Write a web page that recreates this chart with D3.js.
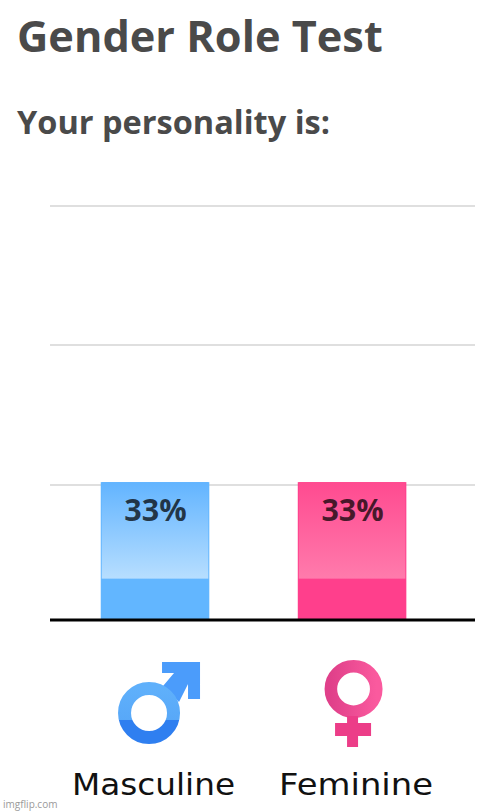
<!DOCTYPE html>
<html>
<head>
<meta charset="utf-8">
<script src="https://cdn.jsdelivr.net/npm/d3@7"></script>
<style>
  html, body { margin: 0; padding: 0; background: #fff; }
  svg { display: block; }
  .title { font-family: "Open Sans", sans-serif; font-weight: 700; fill: #4a4a4a; }
  .bar-label { font-family: "Open Sans", sans-serif; font-weight: 700; font-size: 30.5px; text-anchor: middle; }
  .cat-label { font-family: "DejaVu Sans", sans-serif; font-size: 29.5px; text-anchor: middle; fill: #111; }
  .mark { font-family: "Open Sans", sans-serif; font-size: 10px; fill: #9a9a9a; }
</style>
</head>
<body>
<div id="chart"></div>
<script>
// values
const categories = ["Masculine", "Feminine"];
const percentages = [33.3, 33.3];
const gridValues = [32.6, 66.4, 100];

const width = 500, height = 811;
const baseY = 620, topY = 206;

const barColors = { Masculine: "#62b6ff", Feminine: "#ff3f8c" };
const glossTop = { Masculine: "#62b4ff", Feminine: "#ff4a90" };
const glossBottom = { Masculine: "#b7deff", Feminine: "#ff7bac" };

// the labels are stretched wider than the font in the original
const labelWidth = { Masculine: 163, Feminine: 154 };
const labelShift = { Masculine: -1.5, Feminine: 4 };

const svg = d3.select("#chart").append("svg")
    .attr("width", width)
    .attr("height", height)
    .attr("viewBox", `0 0 ${width} ${height}`);

const xScale = d3.scaleBand()
    .domain(categories)
    .range([50, 475])
    .paddingInner(0.449)
    .paddingOuter(0.303)
    .align(0.425);

const yScale = d3.scaleLinear().domain([0, 100]).range([baseY, topY]);

// gradients for the glossy upper part of the bars
const defs = svg.append("defs");
categories.forEach((c, i) => {
    const g = defs.append("linearGradient")
        .attr("id", `gloss${i}`)
        .attr("x1", 0).attr("y1", 0).attr("x2", 0).attr("y2", 1);
    g.append("stop").attr("offset", "0%").attr("stop-color", glossTop[c]);
    g.append("stop").attr("offset", "100%").attr("stop-color", glossBottom[c]);
});
const maleRing = defs.append("linearGradient")
    .attr("id", "maleFill").attr("x1", 0).attr("y1", 0).attr("x2", 0).attr("y2", 1);
maleRing.append("stop").attr("offset", "0%").attr("stop-color", "#5fb0fb");
maleRing.append("stop").attr("offset", "64%").attr("stop-color", "#58a8f8");
maleRing.append("stop").attr("offset", "64%").attr("stop-color", "#2f7ff0");
maleRing.append("stop").attr("offset", "100%").attr("stop-color", "#2f7ff0");
const femaleRing = defs.append("linearGradient")
    .attr("id", "femaleFill").attr("x1", 0).attr("y1", 0).attr("x2", 1).attr("y2", 0);
femaleRing.append("stop").attr("offset", "0%").attr("stop-color", "#e0408a");
femaleRing.append("stop").attr("offset", "100%").attr("stop-color", "#fa5a9e");

// titles
svg.append("text").attr("class", "title")
    .attr("x", 17).attr("y", 52).style("font-size", "43.3px")
    .text("Gender Role Test");
svg.append("text").attr("class", "title")
    .attr("x", 17).attr("y", 134).style("font-size", "32.5px")
    .text("Your personality is:");

// gridlines
svg.append("g").selectAll("line")
    .data(gridValues)
    .join("line")
    .attr("x1", 50).attr("x2", 475)
    .attr("y1", d => yScale(d)).attr("y2", d => yScale(d))
    .attr("stroke", "#d4d4d4")
    .attr("stroke-width", 1.5);

// bars
const bars = svg.append("g").selectAll("g")
    .data(categories.map((c, i) => ({ cat: c, value: percentages[i], i })))
    .join("g");

bars.append("rect")
    .attr("x", d => xScale(d.cat))
    .attr("y", d => yScale(d.value))
    .attr("width", xScale.bandwidth())
    .attr("height", d => baseY - yScale(d.value))
    .attr("fill", d => barColors[d.cat]);

// gloss covers the upper 70% of each bar
bars.append("rect")
    .attr("x", d => xScale(d.cat) + 1)
    .attr("y", d => yScale(d.value))
    .attr("width", xScale.bandwidth() - 2)
    .attr("height", d => (baseY - yScale(d.value)) * 0.7)
    .attr("fill", d => `url(#gloss${d.i})`);

bars.append("text")
    .attr("class", "bar-label")
    .attr("x", d => xScale(d.cat) + xScale.bandwidth() / 2 + 0.5)
    .attr("y", d => yScale(d.value) + 38.5)
    .attr("fill", "#000")
    .attr("fill-opacity", 0.72)
    .text(d => `${Math.round(d.value)}%`);

// baseline
svg.append("line")
    .attr("x1", 50).attr("x2", 475)
    .attr("y1", baseY).attr("y2", baseY)
    .attr("stroke", "#000")
    .attr("stroke-width", 3);

// gender icons, placed relative to each band
const drawMale = (g) => {
    g.append("path")
        .attr("d", "M7 42H45V79H33V64L24 82L8 66L19 53H7Z")
        .attr("fill", "#4b9cfb");
    g.append("circle").attr("cx", -6).attr("cy", 93)
        .attr("r", 24.5).attr("fill", "none")
        .attr("stroke", "url(#maleFill)").attr("stroke-width", 13);
};
const drawFemale = (g) => {
    g.append("circle").attr("cx", 1.5).attr("cy", 69)
        .attr("r", 22.7).attr("fill", "none")
        .attr("stroke", "url(#femaleFill)").attr("stroke-width", 12.6);
    g.append("path")
        .attr("d", "M-5 96H6V103H19V116H6V127H-5V116H-17V103H-5Z")
        .attr("fill", "#ec3d88");
};
const icons = svg.append("g").selectAll("g")
    .data(categories)
    .join("g")
    .attr("transform", d => `translate(${xScale(d) + xScale.bandwidth() / 2},${baseY})`);
icons.filter(d => d === "Masculine").call(drawMale);
icons.filter(d => d === "Feminine").call(drawFemale);

// category labels
svg.append("g").selectAll("text")
    .data(categories)
    .join("text")
    .attr("class", "cat-label")
    .attr("x", d => xScale(d) + xScale.bandwidth() / 2 + labelShift[d])
    .attr("y", 795)
    .attr("textLength", d => labelWidth[d])
    .attr("lengthAdjust", "spacingAndGlyphs")
    .text(d => d);

// image host mark
svg.append("text").attr("class", "mark")
    .attr("x", 3).attr("y", 808)
    .text("imgflip.com");
</script>
</body>
</html>
